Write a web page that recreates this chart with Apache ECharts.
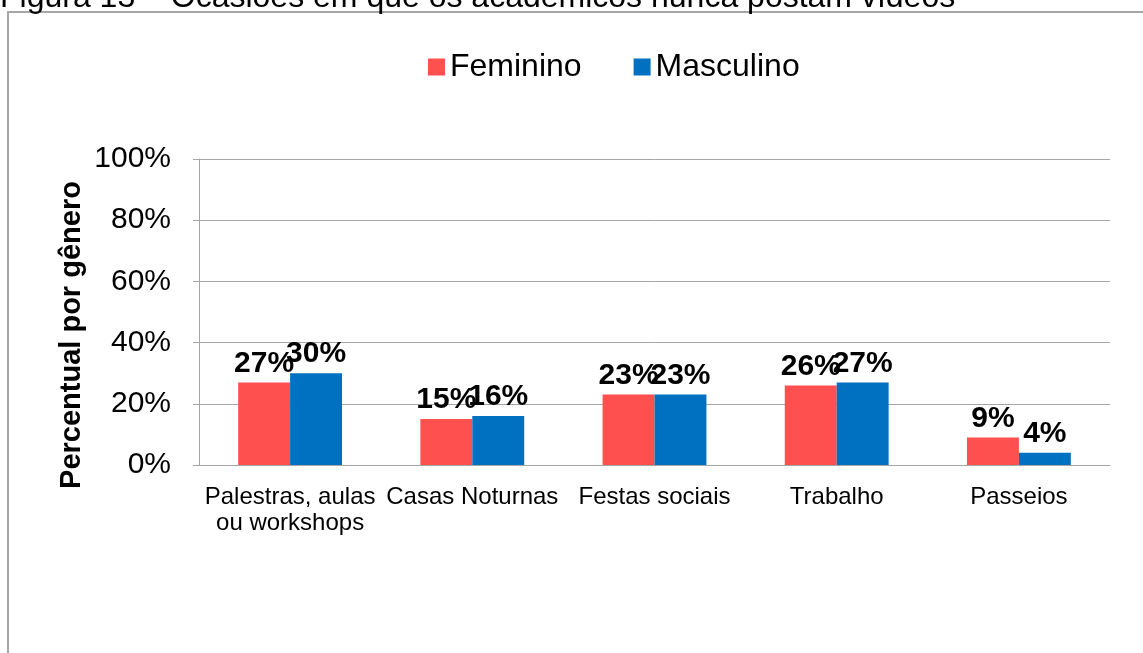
<!DOCTYPE html>
<html>
<head>
<meta charset="utf-8">
<script src="https://cdn.jsdelivr.net/npm/echarts@6/dist/echarts.min.js"></script>
<style>
  html, body { margin: 0; padding: 0; background: #fff; }
  #chart { width: 1143px; height: 653px; }
</style>
</head>
<body>
<div id="chart"></div>
<script>
const categories = ['Palestras, aulas\nou workshops', 'Casas Noturnas', 'Festas sociais', 'Trabalho', 'Passeios'];
const feminino = [27, 15, 23, 26, 9];
const masculino = [30, 16, 23, 27, 4];
const yTicks = [0, 20, 40, 60, 80, 100];

const font = 'Arial, "Liberation Sans", sans-serif';
const gridGray = '#A6A6A6';

const chart = echarts.init(document.getElementById('chart'));

const dataLabel = {
  show: true,
  position: 'top',
  distance: 4,
  formatter: '{c}%',
  fontSize: 30,
  fontWeight: 'bold',
  color: '#000',
  fontFamily: font,
};

chart.setOption({
  animation: false,
  textStyle: { fontFamily: font, color: '#000' },
  legend: {
    top: 46,
    left: 423,
    icon: 'rect',
    itemWidth: 17,
    itemHeight: 17,
    itemGap: 52,
    textStyle: { fontSize: 32, color: '#000', fontFamily: font },
    data: ['Feminino', 'Masculino'],
  },
  grid: { left: 199, right: 33, top: 159, bottom: 188 },
  xAxis: {
    type: 'category',
    data: categories,
    axisLine: { lineStyle: { color: gridGray, width: 1 } },
    axisTick: { show: false },
    axisLabel: {
      fontSize: 24,
      color: '#000',
      fontFamily: font,
      margin: 19,
      lineHeight: 26,
      interval: 0,
    },
  },
  yAxis: {
    type: 'value',
    min: yTicks[0],
    max: yTicks[yTicks.length - 1],
    interval: 20,
    axisLine: { show: true, lineStyle: { color: gridGray, width: 1 } },
    axisTick: { show: true, length: 6, lineStyle: { color: gridGray } },
    splitLine: { lineStyle: { color: gridGray, width: 1 } },
    axisLabel: {
      fontSize: 30,
      color: '#000',
      fontFamily: font,
      margin: 28,
      formatter: (v) => v + '%',
    },
  },
  series: [
    {
      name: 'Feminino',
      type: 'bar',
      data: feminino,
      barGap: '0%',
      barCategoryGap: '43%',
      itemStyle: { color: '#FF5050' },
      label: dataLabel,
    },
    {
      name: 'Masculino',
      type: 'bar',
      data: masculino,
      itemStyle: { color: '#0070C0' },
      label: dataLabel,
    },
  ],
  graphic: [
    {
      type: 'rect',
      shape: { x: 8, y: 12, width: 1200, height: 700 },
      style: { fill: 'none', stroke: gridGray, lineWidth: 2 },
      silent: true,
    },
    {
      type: 'text',
      x: 0,
      y: -18,
      style: {
        text: 'Figura 13 – Ocasiões em que os acadêmicos nunca postam vídeos',
        font: '32px ' + font,
        fill: '#000',
      },
    },
    {
      type: 'text',
      x: 72,
      y: 335,
      rotation: Math.PI / 2,
      style: {
        text: 'Percentual por gênero',
        font: 'bold 29px ' + font,
        fill: '#000',
        textAlign: 'center',
        textVerticalAlign: 'middle',
      },
    },
  ],
});
</script>
</body>
</html>
